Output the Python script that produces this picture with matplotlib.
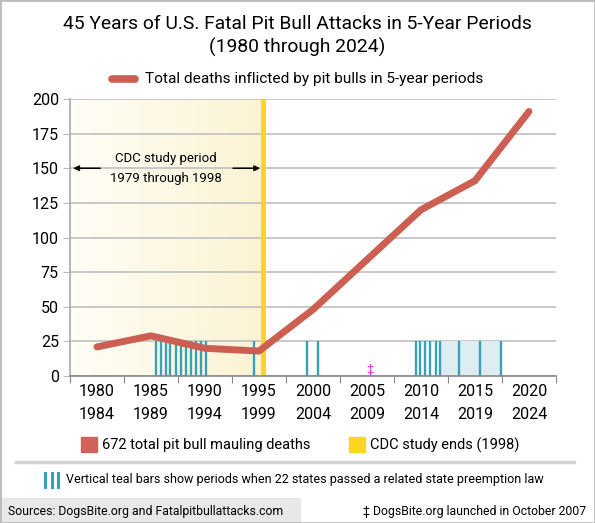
import matplotlib.pyplot as plt
import numpy as np
from matplotlib.lines import Line2D
from matplotlib.patches import Rectangle

plt.rcParams['font.family'] = ['Roboto', 'DejaVu Sans']

# 5-year periods (start years) and deaths per period
periods = [1980, 1985, 1990, 1995, 2000, 2005, 2010, 2015, 2020]
period_ends = [1984, 1989, 1994, 1999, 2004, 2009, 2014, 2019, 2024]
deaths = [21, 29, 20, 18, 48, 84, 120, 141, 191]

# years when states passed a preemption law (teal bars)
preemption_years = [1988.0, 1988.4, 1988.9, 1989.3, 1989.8, 1990.3, 1990.7,
                    1991.2, 1991.7, 1992.1, 1992.6, 1997.0, 2001.9, 2003.0,
                    2012.0, 2012.4, 2012.9, 2013.3, 2013.9, 2014.3,
                    2016.0, 2018.0, 2019.9]
shaded_span = (2014.3, 2019.9)
cdc_start, cdc_end = 1980, 1998
dogsbite_launch = 2007.75

red = '#cc5e52'
yellow = '#ffd61f'
teal = '#35a2b7'

fig = plt.figure(figsize=(5.95, 5.23), dpi=100)
ax = fig.add_axes([70/595, 1 - 376/523, 486/595, 277/523])

# CDC study period shading (gradient)
grad = np.linspace(0, 1, 256).reshape(1, -1)
c0 = np.array([255, 254, 247]) / 255
c1 = np.array([252, 243, 210]) / 255
img = c0 + (c1 - c0) * grad[..., None]
ax.imshow(img, extent=[cdc_start, cdc_end, 0, 200], aspect='auto', zorder=0)
ax.axvline(cdc_end - 0.1, color=yellow, lw=3.5, zorder=1.6)

# preemption bars
ax.bar(shaded_span[0], 25, width=shaded_span[1] - shaded_span[0], align='edge',
       color='#ddedf1', zorder=1.7)
ax.vlines(preemption_years, 0, 25, color=teal, lw=1.7, zorder=2)

# deaths line
centers = [p + 2.5 for p in periods]
ax.plot(centers, deaths, color=red, lw=5, solid_capstyle='round',
        solid_joinstyle='round', zorder=4)

ax.text(dogsbite_launch, 5, '‡', color='#ff33ff', fontsize=9,
        ha='center', va='center', zorder=5)

# CDC annotation
ax.text(1988.9, 150, 'CDC study period\n1979 through 1998', ha='center',
        va='center', fontsize=9.5, linespacing=1.7, zorder=5)
ax.annotate('', xy=(1980.3, 150), xytext=(1982.8, 150),
            arrowprops=dict(arrowstyle='-|>', color='black', lw=1.1,
                            mutation_scale=8, shrinkA=0, shrinkB=0))
ax.annotate('', xy=(1997.6, 150), xytext=(1995.1, 150),
            arrowprops=dict(arrowstyle='-|>', color='black', lw=1.1,
                            mutation_scale=8, shrinkA=0, shrinkB=0))

ax.set_xlim(1980, 2025)
ax.set_ylim(0, 200)
ax.set_yticks(np.arange(0, 201, 25))
ax.set_xticks(periods + [2025])
ax.set_xticklabels([])
ax.set_xticks(centers, minor=True)
ax.set_xticklabels(['%d\n%d' % (a, b) for a, b in zip(periods, period_ends)],
                   minor=True)
ax.tick_params(axis='x', which='minor', length=0, pad=6, labelsize=11.5)
ax.tick_params(axis='x', which='major', length=5, color='#888888')
ax.tick_params(axis='y', length=5, color='#bbbbbb', labelsize=11.5, pad=3)
for lab in ax.get_xticklabels(minor=True):
    lab.set_linespacing(1.6)

ax.grid(axis='y', color='#c4c4c4', lw=1.3)
ax.set_axisbelow('line')
for s in ['top', 'right']:
    ax.spines[s].set_visible(False)
ax.spines['left'].set_color('#aaaaaa')
ax.spines['bottom'].set_color('#888888')
ax.spines['left'].set_linewidth(1.2)
ax.spines['bottom'].set_linewidth(1.2)

# title
fig.text(0.5, 1 - 36/523, '45 Years of U.S. Fatal Pit Bull Attacks in 5-Year Periods\n(1980 through 2024)',
         ha='center', va='center', fontsize=13.9, linespacing=1.35)

# top legend
fig.add_artist(Line2D([112/595, 135/595], [1 - 79/523] * 2, color=red, lw=5.5,
                      solid_capstyle='round', transform=fig.transFigure))
fig.text(145/595, 1 - 79/523, 'Total deaths inflicted by pit bulls in 5-year periods',
         va='center', fontsize=11.1)

# bottom legend
fig.add_artist(Rectangle((81/595, 1 - 452/523), 16/595, 15/523, color='#cf6359',
                         transform=fig.transFigure))
fig.text(102/595, 1 - 445/523, '672 total pit bull mauling deaths', va='center', fontsize=10.5)
fig.add_artist(Rectangle((349/595, 1 - 452/523), 16/595, 15/523, color=yellow,
                         transform=fig.transFigure))
fig.text(370/595, 1 - 445/523, 'CDC study ends (1998)', va='center', fontsize=10.5)

fig.add_artist(Line2D([16/595, 574/595], [1 - 462/523] * 2, color='#d4d4d4', lw=2.5,
                      transform=fig.transFigure))

for bx in [45, 51.5, 58]:
    fig.add_artist(Line2D([bx/595] * 2, [1 - 487/523, 1 - 473/523], color=teal, lw=2.2,
                          transform=fig.transFigure))
fig.text(66/595, 1 - 480/523,
         'Vertical teal bars show periods when 22 states passed a related state preemption law',
         va='center', fontsize=9)

# footer
fig.add_artist(Rectangle((0, 0), 300/595, 25/523, color='#e8e8e8',
                         transform=fig.transFigure))
fig.text(8/595, 1 - 511/523, 'Sources: DogsBite.org and Fatalpitbullattacks.com',
         va='center', fontsize=8.8)
fig.text(586/595, 1 - 511/523, '‡ DogsBite.org launched in October 2007',
         va='center', ha='right', fontsize=8.8)

fig.add_artist(Rectangle((0, 0), 1, 1, fill=False, ec='#bbbbbb', lw=2,
                         transform=fig.transFigure))

fig.savefig('out.png', dpi=100)
